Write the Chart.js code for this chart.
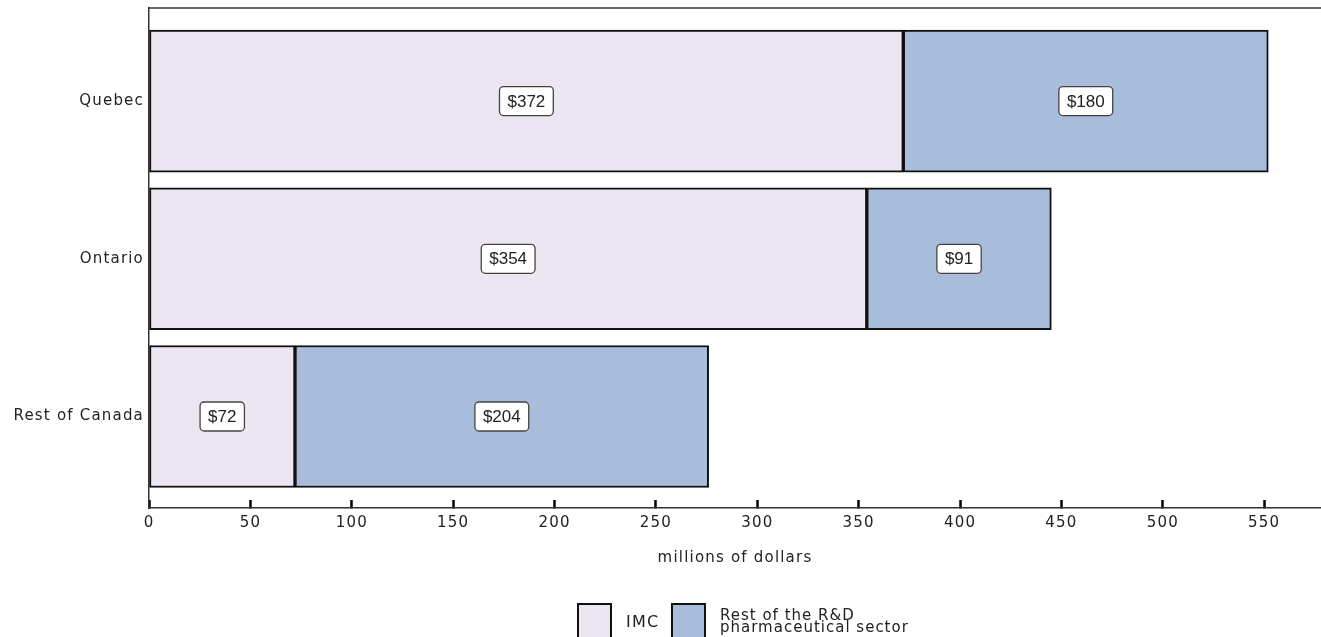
<!DOCTYPE html>
<html>
<head>
<meta charset="utf-8">
<script src="https://cdn.jsdelivr.net/npm/chart.js@4.4.1/dist/chart.umd.min.js"></script>
<style>
  html, body { margin: 0; padding: 0; background: #fff; }
  #wrap { position: relative; width: 1321px; height: 637px; overflow: hidden; }
  #c { position: absolute; left: 0; top: 0; }
  .lg-box { position: absolute; width: 31px; height: 40px; border: 2px solid #111; box-sizing: content-box; }
  .lg-text { position: absolute; font-family: "DejaVu Sans", Verdana, sans-serif; color: #222; white-space: nowrap; }
</style>
</head>
<body>
<div id="wrap">
  <canvas id="c" width="1321" height="637"></canvas>
  <div class="lg-box" id="lgBox0" style="left:577px; top:603px;"></div>
  <div class="lg-text" id="lgText0" style="left:626px; top:612px; font-size:16px; line-height:19px; letter-spacing:1.2px;"></div>
  <div class="lg-box" id="lgBox1" style="left:671px; top:603px;"></div>
  <div class="lg-text" id="lgText1" style="left:720px; top:609px; font-size:15px; line-height:12px; letter-spacing:1px;"></div>
</div>
<script>
// Provinces / regions on the vertical axis
const categories = ['Quebec', 'Ontario', 'Rest of Canada'];
// Spending, millions of dollars
const imcValues = [372, 354, 72];
const restValues = [180, 91, 204];
// Series names
const seriesNames = ['IMC', 'Rest of the R&D pharmaceutical sector'];
const legendLines = [['IMC'], ['Rest of the R&D', 'pharmaceutical sector']];
const seriesColors = ['#ebe6f2', '#a8bddc'];

const tickFont = { family: '"DejaVu Sans", Verdana, sans-serif', size: 15 };

function toPoints(values) {
  return values.map((v, i) => ({ x: v, y: i }));
}

// Legend below the plot
legendLines.forEach((lines, i) => {
  document.getElementById('lgBox' + i).style.background = seriesColors[i];
  const t = document.getElementById('lgText' + i);
  t.innerHTML = lines.map(s => s.replace(/&/g, '&amp;')).join('<br>');
});

// Slightly tracked-out axis text
const tracking = {
  id: 'tracking',
  beforeUpdate(chart) { chart.ctx.letterSpacing = '1.2px'; },
  beforeDraw(chart) { chart.ctx.letterSpacing = '1.2px'; }
};

// Top frame line of the plot area
const frameTop = {
  id: 'frameTop',
  afterDraw(chart) {
    const { ctx, chartArea } = chart;
    ctx.save();
    ctx.strokeStyle = '#333';
    ctx.lineWidth = 1.5;
    ctx.beginPath();
    ctx.moveTo(chartArea.left, chartArea.top);
    ctx.lineTo(chartArea.right, chartArea.top);
    ctx.stroke();
    ctx.restore();
  }
};

// Boxed "$value" label at the centre of each bar segment
const valueBoxes = {
  id: 'valueBoxes',
  afterDatasetsDraw(chart) {
    const { ctx } = chart;
    ctx.save();
    ctx.letterSpacing = '0px';
    ctx.font = '17px "Liberation Sans", Arial, sans-serif';
    ctx.textAlign = 'center';
    ctx.textBaseline = 'middle';
    chart.data.datasets.forEach((ds, di) => {
      const meta = chart.getDatasetMeta(di);
      meta.data.forEach((el, i) => {
        const val = ds.data[i].x;
        const text = '$' + val;
        const c = el.getCenterPoint();
        const w = ctx.measureText(text).width + 16;
        const h = 29;
        const x = c.x - w / 2, y = c.y - h / 2;
        ctx.beginPath();
        ctx.roundRect(x, y, w, h, 4);
        ctx.fillStyle = '#fff';
        ctx.fill();
        ctx.lineWidth = 1.3;
        ctx.strokeStyle = '#444';
        ctx.stroke();
        ctx.fillStyle = '#222';
        ctx.fillText(text, c.x, c.y + 1);
      });
    });
    ctx.restore();
  }
};

new Chart(document.getElementById('c'), {
  type: 'bar',
  data: {
    datasets: [
      {
        label: seriesNames[0],
        data: toPoints(imcValues),
        backgroundColor: seriesColors[0],
        borderColor: '#111',
        borderWidth: 2,
        borderSkipped: false,
        barThickness: 142
      },
      {
        label: seriesNames[1],
        data: toPoints(restValues),
        backgroundColor: seriesColors[1],
        borderColor: '#111',
        borderWidth: 2,
        borderSkipped: false,
        barThickness: 142
      }
    ]
  },
  options: {
    indexAxis: 'y',
    responsive: false,
    animation: false,
    devicePixelRatio: 1,
    layout: { padding: { top: 8, right: 0, left: 0, bottom: 0 } },
    plugins: {
      legend: { display: false },
      tooltip: { enabled: false }
    },
    scales: {
      x: {
        type: 'linear',
        position: 'bottom',
        stacked: true,
        offset: false,
        min: 0,
        max: 578,
        afterBuildTicks(scale) {
          scale.ticks = scale.ticks.filter(t => t.value % 50 === 0);
        },
        ticks: {
          stepSize: 50,
          font: tickFont,
          color: '#222',
          padding: 14,
          maxRotation: 0
        },
        grid: {
          drawOnChartArea: false,
          drawTicks: true,
          tickLength: -8,
          tickWidth: 2.5,
          tickColor: '#000'
        },
        border: { display: true, color: '#333', width: 1.5 },
        title: {
          display: true,
          text: 'millions of dollars',
          font: tickFont,
          color: '#222',
          padding: { top: 0, bottom: 70 }
        },
        afterFit(scale) {
          scale.height = 129;
          scale.paddingLeft = 0;
          scale.paddingRight = 0;
        }
      },
      y: {
        type: 'linear',
        reverse: true,
        stacked: true,
        offset: false,
        min: -0.59,
        max: 2.58,
        afterBuildTicks(scale) {
          scale.ticks = categories.map((_, i) => ({ value: i }));
        },
        ticks: {
          font: tickFont,
          color: '#222',
          padding: 5,
          callback: (v) => categories[v] ?? ''
        },
        grid: { display: false, drawTicks: false },
        border: { display: true, color: '#333', width: 1.5 },
        afterFit(scale) {
          scale.width = 149;
          scale.paddingTop = 0;
          scale.paddingBottom = 0;
        }
      }
    }
  },
  plugins: [tracking, frameTop, valueBoxes]
});
</script>
</body>
</html>
